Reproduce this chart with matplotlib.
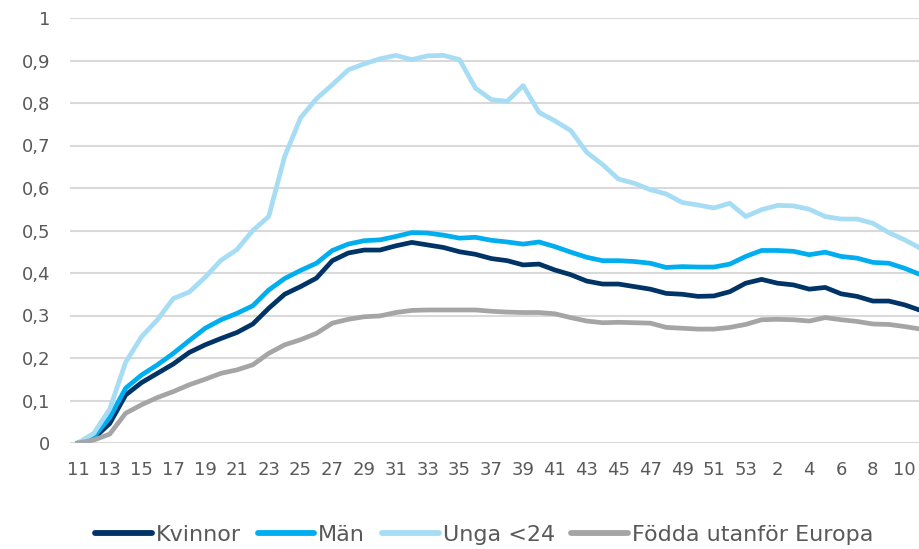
import matplotlib
matplotlib.use("Agg")
import matplotlib.pyplot as plt
import numpy as np

weeks = list(range(11, 54)) + list(range(1, 12))

kvinnor = [0.0, 0.011, 0.046, 0.113, 0.142, 0.164, 0.186, 0.213, 0.231, 0.246, 0.26, 0.28, 0.317, 0.35,
           0.368, 0.388, 0.429, 0.447, 0.454, 0.454, 0.464, 0.472, 0.466, 0.46, 0.45, 0.444, 0.434,
           0.429, 0.419, 0.421, 0.407, 0.396, 0.381, 0.374, 0.374, 0.368, 0.362, 0.352, 0.35, 0.345,
           0.346, 0.356, 0.376, 0.385, 0.376, 0.372, 0.362, 0.366, 0.351, 0.345, 0.334, 0.334, 0.325, 0.312]
man = [0.0, 0.015, 0.06, 0.129, 0.16, 0.184, 0.211, 0.241, 0.27, 0.29, 0.305, 0.323, 0.36, 0.387,
       0.406, 0.423, 0.453, 0.468, 0.476, 0.478, 0.486, 0.495, 0.494, 0.489, 0.482, 0.484, 0.477,
       0.473, 0.468, 0.473, 0.462, 0.449, 0.437, 0.429, 0.429, 0.427, 0.423, 0.413, 0.415, 0.414,
       0.414, 0.421, 0.439, 0.453, 0.453, 0.451, 0.443, 0.449, 0.439, 0.435, 0.425, 0.423, 0.411, 0.396]
unga = [0.0, 0.023, 0.08, 0.19, 0.25, 0.29, 0.34, 0.355, 0.39, 0.43, 0.455, 0.5, 0.533, 0.674,
        0.765, 0.81, 0.843, 0.878, 0.892, 0.904, 0.912, 0.902, 0.911, 0.912, 0.902, 0.835, 0.808,
        0.804, 0.841, 0.778, 0.758, 0.735, 0.684, 0.655, 0.621, 0.611, 0.596, 0.586, 0.566, 0.56,
        0.553, 0.564, 0.533, 0.549, 0.559, 0.558, 0.55, 0.533, 0.527, 0.527, 0.517, 0.495, 0.478, 0.458]
fodda = [0.0, 0.007, 0.021, 0.07, 0.09, 0.107, 0.121, 0.137, 0.15, 0.164, 0.172, 0.184, 0.211, 0.231,
         0.243, 0.258, 0.282, 0.291, 0.297, 0.299, 0.307, 0.312, 0.313, 0.313, 0.313, 0.313, 0.31,
         0.308, 0.307, 0.307, 0.304, 0.295, 0.287, 0.283, 0.284, 0.283, 0.282, 0.272, 0.27, 0.268,
         0.268, 0.272, 0.279, 0.29, 0.291, 0.29, 0.287, 0.295, 0.29, 0.286, 0.28, 0.279, 0.274, 0.268]

series = [("Kvinnor", kvinnor, "#003366"),
          ("Män", man, "#00AEEF"),
          ("Unga <24", unga, "#A6DCF4"),
          ("Födda utanför Europa", fodda, "#A5A5A5")]

yticks = [0, 0.1, 0.2, 0.3, 0.4, 0.5, 0.6, 0.7, 0.8, 0.9, 1.0]
ytick_labels = ["0", "0,1", "0,2", "0,3", "0,4", "0,5", "0,6", "0,7", "0,8", "0,9", "1"]

fig = plt.figure(figsize=(9.19, 5.49), dpi=100)
ax = fig.add_axes([70/919, 1-443/549, 1-70/919, (443-18)/549])

x = np.arange(len(weeks))
order = [3, 2, 1, 0]
for idx in order:
    name, vals, col = series[idx]
    ax.plot(x, vals, color=col, lw=3.4, label=name, solid_joinstyle="round", zorder=3+idx, clip_on=True)

ax.set_ylim(0, 1)
ax.set_xlim(-0.5, 52.9)
ax.set_yticks(yticks)
ax.set_yticklabels(ytick_labels)
ax.set_xticks(x[::2])
ax.set_xticklabels([str(w) for w in weeks[::2]])
ax.grid(axis="y", color="#D9D9D9", lw=1.5)
ax.set_axisbelow(True)
for s in ax.spines.values():
    s.set_visible(False)
ax.tick_params(axis="both", length=0, labelsize=13, labelcolor="#595959")
ax.tick_params(axis="x", pad=13)
ax.tick_params(axis="y", pad=14)

handles, labels = ax.get_legend_handles_labels()
hmap = dict(zip(labels, handles))
names = [s[0] for s in series]
leg = fig.legend([hmap[n] for n in names], names, loc="center", bbox_to_anchor=(0.527, 1-535/549),
                 ncol=4, frameon=False, fontsize=16, handlelength=2.55, handletextpad=0.18,
                 columnspacing=0.75, labelcolor="#595959", borderpad=0)
for line in leg.get_lines():
    line.set_linewidth(4.2)
    line.set_solid_capstyle("round")

fig.savefig("out.png", dpi=100)
